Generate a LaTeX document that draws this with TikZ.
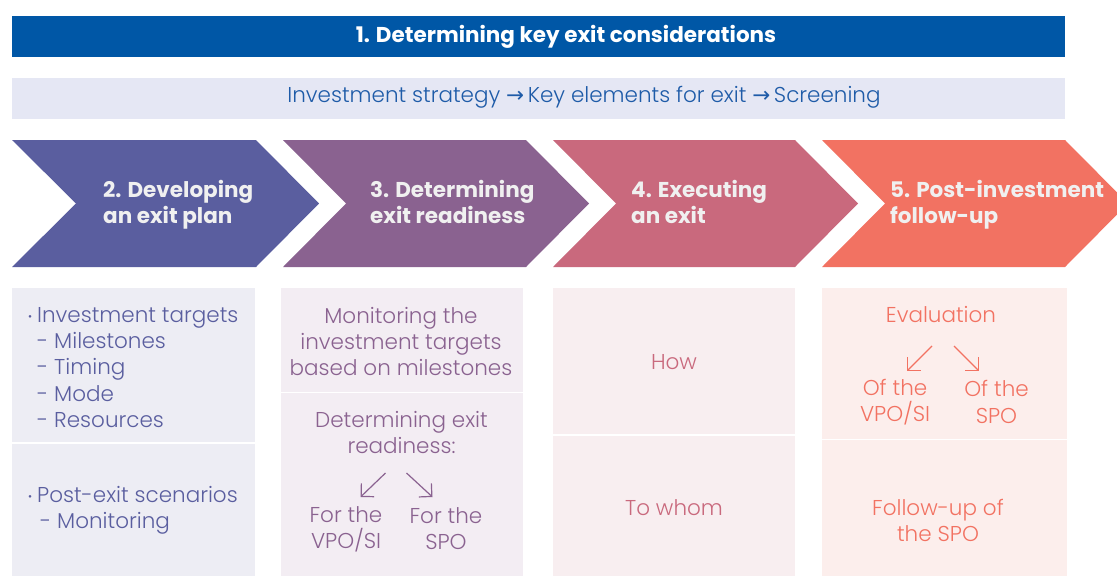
\documentclass[tikz,border=0pt]{standalone}
\usepackage{fontspec}
\setmainfont{Poppins Light}[BoldFont=Poppins Bold]
\newfontfamily\arrowfont{DejaVu Sans}
\usetikzlibrary{arrows.meta}

\definecolor{bandblue}{HTML}{0057A6}
\definecolor{bandpale}{HTML}{E5E7F4}
\definecolor{bandtext}{HTML}{1E5BA8}
\definecolor{stepone}{HTML}{5A5E9F}
\definecolor{steptwo}{HTML}{8A6290}
\definecolor{stepthree}{HTML}{C9697D}
\definecolor{stepfour}{HTML}{F27262}
\definecolor{cellone}{HTML}{EDEDF4}
\definecolor{celltwo}{HTML}{F3EDF3}
\definecolor{cellthree}{HTML}{F8EEF0}
\definecolor{cellfour}{HTML}{FCEEEC}
\definecolor{chevtext}{HTML}{F0F0F0}

\newcommand\dotmark{\raisebox{2pt}{\fontsize{11}{11}\selectfont\textbullet}\hspace{5pt}}

\begin{document}
\begin{tikzpicture}[x=1pt, y=-1pt,
    chev/.style={font=\fontsize{21.5}{26}\selectfont\bfseries, text=chevtext, align=left, anchor=west, inner sep=0pt},
    cell/.style={font=\fontsize{21.5}{26.2}\selectfont, align=center, inner sep=0pt},
    split/.style={white, line width=1.5pt},
    pointer/.style={line width=1.2pt, -{Straight Barb[angle=90:13pt]}}]
\useasboundingbox (0,0) rectangle (1117,576);
\clip (0,0) rectangle (1117,576);

% top bands
\fill[bandblue] (12,16) rectangle (1065,57);
\node[text=white, font=\fontsize{21.5}{24}\selectfont\bfseries] (title) at (566,37) {1. Determining key exit considerations};
\fill[bandpale] (12,78) rectangle (1065,119);
\node[text=bandtext, font=\fontsize{21.5}{24}\selectfont] (flow) at (584,97.5) {Investment strategy {\arrowfont→}\,Key elements for exit {\arrowfont→}\,Screening};

% chevrons
\fill[stepone] (12,140) -- (256,140) -- (319,203.5) -- (256,267) -- (12,267) -- (76,203.5) -- cycle;
\fill[steptwo] (283,140) -- (526,140) -- (589,203.5) -- (526,267) -- (283,267) -- (346,203.5) -- cycle;
\fill[stepthree] (553,140) -- (795,140) -- (858,203.5) -- (795,267) -- (553,267) -- (616,203.5) -- cycle;
\fill[stepfour] (822,140) -- (1065,140) -- (1128,203.5) -- (1065,267) -- (822,267) -- (885,203.5) -- cycle;
\node[chev] (plan) at (103,205) {2. Developing\\an exit plan};
\node[chev] (ready) at (370,202) {3. Determining\\exit readiness};
\node[chev] (exec) at (631,202) {4. Executing\\an exit};
\node[chev] (post) at (890,205) {5. Post-investment\\follow-up};

% cells
\fill[cellone] (12,288) rectangle (255,576);
\fill[celltwo] (281,288) rectangle (523,576);
\fill[cellthree] (553,288) rectangle (795,576);
\fill[cellfour] (822,288) rectangle (1067,576);
\draw[split] (12,443) -- (255,443);
\draw[split] (281,392.5) -- (523,392.5);
\draw[split] (553,435) -- (795,435);
\draw[split] (822,439.5) -- (1067,439.5);

% column 2
\node[cell, text=stepone, align=left, anchor=west] (targets) at (37,367.5) {\llap{\dotmark}Investment targets\\- Milestones\\- Timing\\- Mode\\- Resources};
\node[cell, text=stepone, align=left, anchor=west] (scenarios) at (37,510) {\llap{\dotmark}Post-exit scenarios\\\hspace{3pt}- Monitoring};

% column 3
\node[cell, text=steptwo] (monitor) at (401,341.5) {Monitoring the\\investment targets\\based on milestones};
\node[cell, text=steptwo] (readyhead) at (401.5,432.5) {Determining exit\\readiness:};
\node[cell, text=steptwo] (forvpo) at (346,529) {For the\\VPO/SI};
\node[cell, text=steptwo] (forspo) at (446,529) {For the\\SPO};
\coordinate (readyL) at (385.5,473);
\coordinate (readyLend) at (360.5,497);
\coordinate (readyR) at (406.5,473);
\coordinate (readyRend) at (432.5,497);
\draw[pointer, steptwo] (readyL) -- (readyLend);
\draw[pointer, steptwo] (readyR) -- (readyRend);

% column 4
\node[cell, text=stepthree] (how) at (674,362) {How};
\node[cell, text=stepthree] (whom) at (674,508) {To whom};

% column 5
\node[cell, text=stepfour] (evaluation) at (941,314.5) {Evaluation};
\node[cell, text=stepfour] (ofvpo) at (895,402) {Of the\\VPO/SI};
\node[cell, text=stepfour] (ofspo) at (996.5,402) {Of the\\SPO};
\node[cell, text=stepfour] (followup) at (938,520.5) {Follow-up of\\the SPO};
\coordinate (evalL) at (932,346);
\coordinate (evalLend) at (907,371);
\coordinate (evalR) at (954,346);
\coordinate (evalRend) at (979,371);
\draw[pointer, stepfour] (evalL) -- (evalLend);
\draw[pointer, stepfour] (evalR) -- (evalRend);
\end{tikzpicture}
\end{document}
